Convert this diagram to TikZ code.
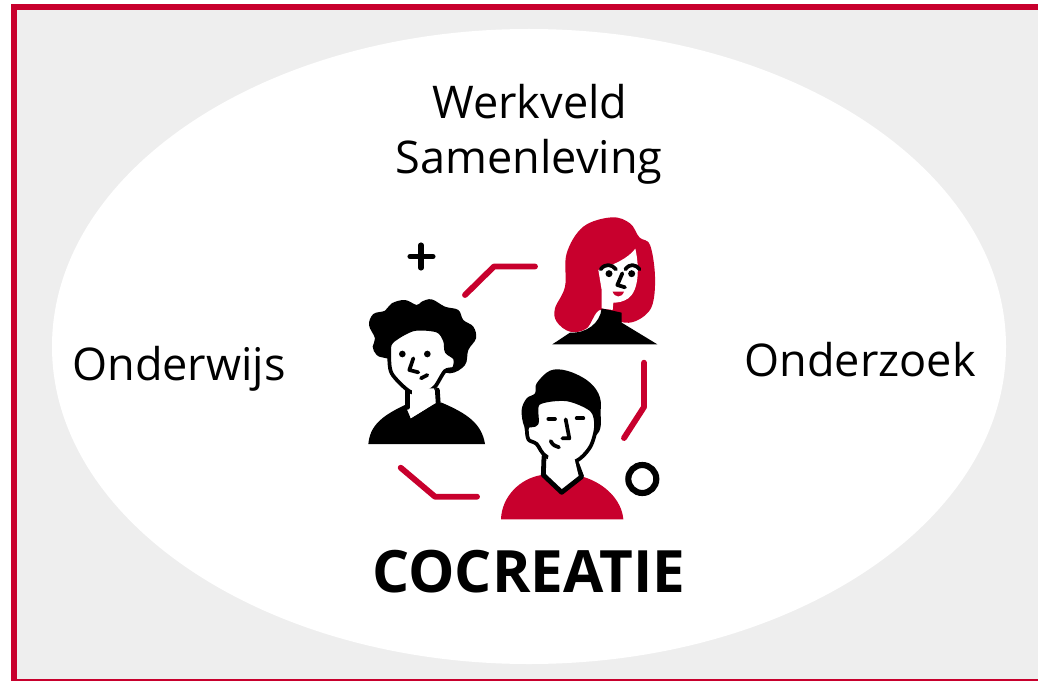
\documentclass[tikz,border=0pt]{standalone}
\usepackage{fontspec}
\setmainfont{Open Sans}
\definecolor{crimson}{HTML}{C8002D}
\definecolor{panel}{HTML}{EEEEEE}
\tikzset{
  lbl/.style={inner sep=0pt,anchor=base,font=\fontsize{33.8pt}{38pt}\selectfont,text=black},
  link/.style={draw=crimson,line width=4.4pt,line cap=round,line join=round},
  stroke/.style={draw=black,line cap=round,line join=round,line width=2.8pt},
  heavy/.style={draw=black,line cap=round,line join=round,line width=3.6pt},
  zoomA/.style={shift={(350,210)},scale=1/3},
  zoomB/.style={shift={(520,210)},scale=1/3},
  zoomC/.style={shift={(390,360)},scale=1/3}
}
\begin{document}
\begin{tikzpicture}[x=0.75pt,y=-0.75pt]
\useasboundingbox (0,0) rectangle (1038,681);
\fill[white] (0,0) rectangle (1038,681);
\fill[panel] (11,4) rectangle (1038,681);
\fill[crimson] (11,4) rectangle (1038,10);
\fill[crimson] (11,4) rectangle (17,681);
\fill[crimson] (11,679) rectangle (1038,681);
\fill[white] (529,346.5) ellipse [x radius=477,y radius=317.5];

\node[lbl] (werkveld) at (530,119) {Werkveld};
\node[lbl] (samenleving) at (529,174) {Samenleving};
\node[lbl] (onderwijs) at (179,380) {Onderwijs};
\node[lbl] (onderzoek) at (860,376) {Onderzoek};
\node[lbl,font=\fontsize{43.8pt}{48pt}\selectfont\bfseries] (cocreatie) at (529,592) {COCREATIE};

% links
\draw[link] (465,295) -- (494,266.5) -- (535,266.5);
\draw[link] (644,362.7) -- (644,407) -- (624,438);
\draw[link] (400.7,467.7) -- (435,496.7) -- (477,496.7);
% plus and ring
\draw[black,line width=3.8pt,line cap=round] (410,256.5) -- (433,256.5) (421,245) -- (421,268);
\draw[black,line width=4.6pt] (642.3,479) circle [radius=14];

% man with curls
\begin{scope}[zoomA]
\fill[black] (55,702) .. controls (60,650) and (90,620) .. (165,585) -- (182,625) -- (255,580) -- (275,578) .. controls (350,610) and (395,640) .. (405,702) -- cycle;
\fill[black] plot[smooth cycle,tension=0.6] coordinates {(200,285) (165,270) (125,280) (105,302) (70,312) (57,345) (75,385) (68,410) (80,435) (110,445) (240,470) (300,490) (345,465) (355,420) (378,385) (370,350) (340,330) (325,300) (285,290) (245,268) (215,275)};
\fill[white] (182,530) -- (182,625) -- (255,580) -- (255,525) -- cycle;
\draw[heavy] (172,540) -- (172,592);
\draw[heavy] (262,540) -- (265,585);
\filldraw[fill=white,stroke] plot[smooth cycle,tension=0.5] coordinates {(125,395) (190,358) (262,362) (285,392) (290,425) (315,445) (312,475) (285,483) (255,530) (225,547) (180,545) (125,490) (118,430)};
\fill[white] (186,535) -- (186,610) -- (252,575) -- (252,535) -- cycle;
\fill[black] (157,432) circle [radius=10] (232,432) circle [radius=10];
\draw[stroke] (190,445) -- (178,480) -- (205,487);
\draw[stroke] (213,505) -- (232,495);
\end{scope}

% woman
\begin{scope}[zoomB]
\fill[crimson] plot[smooth cycle,tension=0.6] coordinates {(275,22) (330,40) (358,82) (390,105) (405,200) (395,290) (350,332) (300,335) (240,300) (200,355) (150,365) (110,335) (105,295) (135,230) (140,130) (190,50)};
\fill[black] (97,403) -- (150,368) .. controls (200,370) and (240,340) .. (245,295) -- (305,308) -- (305,338) -- (412,403) -- cycle;
\fill[white] (346,116) .. controls (358,170) and (358,240) .. (325,265) .. controls (310,275) and (295,278) .. (280,278) -- (278,300) -- (245,295) -- (245,240) -- (235,180) .. controls (280,165) and (325,145) .. (346,116) -- cycle;
\draw[stroke] (242,178) .. controls (255,160) and (275,162) .. (288,178);
\draw[stroke] (316,178) .. controls (330,160) and (345,162) .. (359,178);
\fill[black] (267,191) circle [radius=10.5] (335,191) circle [radius=10.5];
\draw[stroke] (307,190) -- (292,225) -- (315,232);
\fill[crimson] (278,245) .. controls (285,264) and (305,264) .. (312,245) -- cycle;
\end{scope}

% man in red
\begin{scope}[zoomC]
\fill[crimson] (333,478) .. controls (335,410) and (390,355) .. (455,345) -- (515,395) -- (578,350) .. controls (645,370) and (695,420) .. (700,478) -- cycle;
\fill[black] plot[smooth cycle,tension=0.6] coordinates {(440,70) (480,32) (530,32) (590,60) (625,100) (632,150) (610,230) (430,230) (403,200) (395,150) (410,115) (435,100)};
\fill[white] (470,285) -- (462,345) -- (515,395) -- (570,350) -- (558,300) -- cycle;
\draw[heavy] (462,290) -- (460,345) -- (515,397) -- (575,350) -- (560,310);
\filldraw[fill=white,stroke] plot[smooth cycle,tension=0.5] coordinates {(445,130) (530,118) (605,150) (618,200) (600,262) (552,305) (470,290) (440,252) (415,238) (412,200) (440,190)};
\fill[white] (476,280) -- (470,338) -- (515,380) -- (565,345) -- (552,290) -- cycle;
\draw[stroke] (475,177) -- (495,177);
\draw[stroke] (560,175) -- (580,175);
\draw[stroke] (527,178) -- (538,235) -- (517,235);
\draw[stroke] (482,243) .. controls (488,255) and (497,260) .. (507,262);
\end{scope}
\end{tikzpicture}
\end{document}
